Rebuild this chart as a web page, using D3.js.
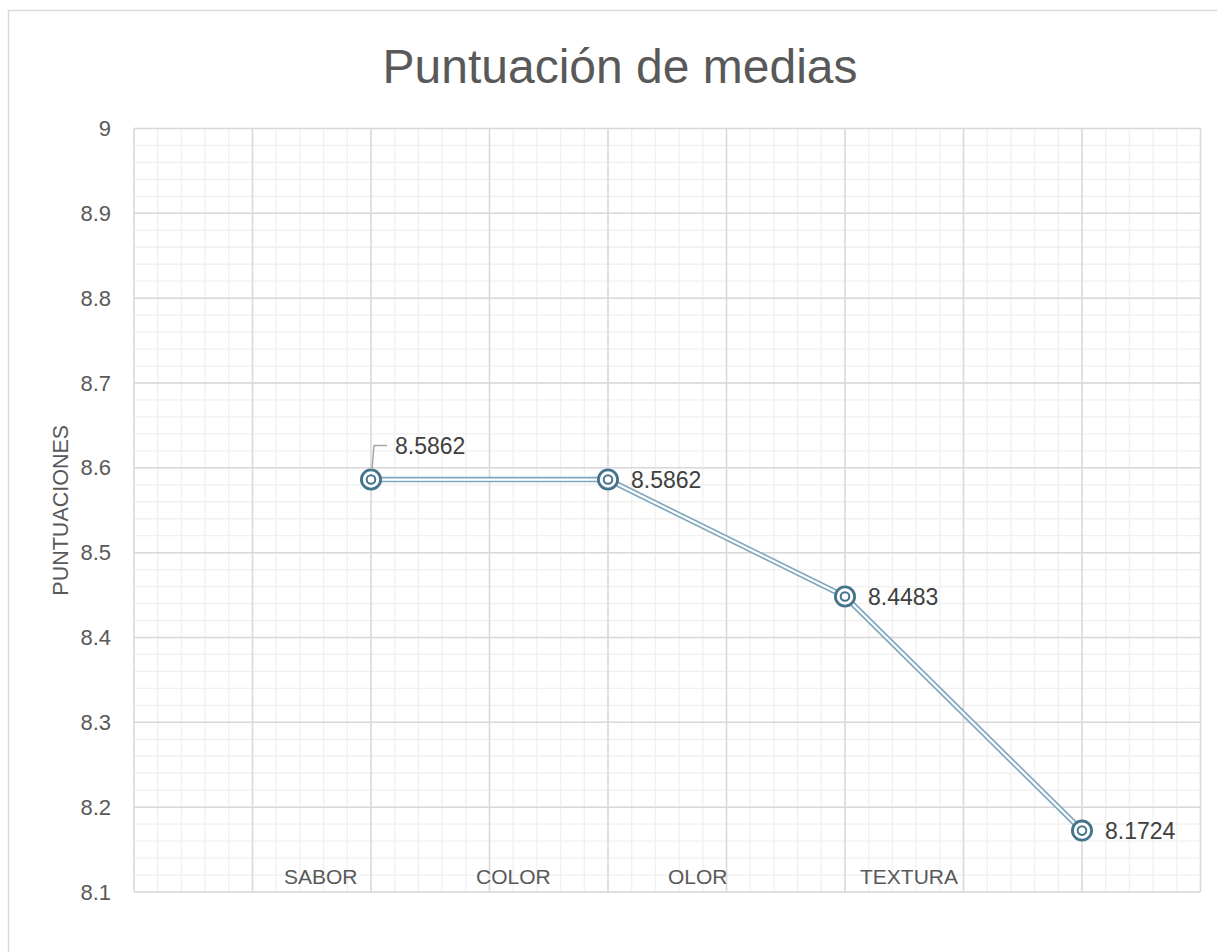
<!DOCTYPE html>
<html>
<head>
<meta charset="utf-8">
<script src="https://cdn.jsdelivr.net/npm/d3@7"></script>
<style>
  html, body { margin: 0; padding: 0; background: #fff; }
  svg { display: block; }
  text { font-family: "Liberation Sans", Arial, sans-serif; }
</style>
</head>
<body>
<svg id="chart" width="1217" height="952"></svg>
<script>
// ---- data ----
const title = "Puntuación de medias";
const yAxisTitle = "PUNTUACIONES";
const categories = ["SABOR", "COLOR", "OLOR", "TEXTURA"];
const xValues = [2, 4, 6, 8];
const values = [8.5862, 8.5862, 8.4483, 8.1724];
const yTicks = [8.1, 8.2, 8.3, 8.4, 8.5, 8.6, 8.7, 8.8, 8.9, 9];
const xDomain = [0, 9];
const yDomain = [8.1, 9];

// ---- layout ----
const W = 1217, H = 952;
const plot = { left: 134, right: 1200.5, top: 128.5, bottom: 892 };

const svg = d3.select("#chart");

// chart border (left + top visible)
svg.append("rect")
  .attr("x", 8.5).attr("y", 10.5)
  .attr("width", W + 20).attr("height", H + 20)
  .attr("fill", "#fff").attr("stroke", "#d9d9d9").attr("stroke-width", 1.5);

const x = d3.scaleLinear().domain(xDomain).range([plot.left, plot.right]);
const y = d3.scaleLinear().domain(yDomain).range([plot.bottom, plot.top]);

// minor gridlines
const xMinor = d3.range(xDomain[0], xDomain[1] + 1e-9, 0.2).map(v => +v.toFixed(2));
const yMinor = d3.range(yDomain[0], yDomain[1] + 1e-9, 0.02).map(v => +v.toFixed(2));
const g = svg.append("g");
g.selectAll(".xminor").data(xMinor).join("line")
  .attr("x1", d => x(d)).attr("x2", d => x(d))
  .attr("y1", plot.top).attr("y2", plot.bottom)
  .attr("stroke", "#f0f0f0").attr("stroke-width", 1.3);
g.selectAll(".yminor").data(yMinor).join("line")
  .attr("y1", d => y(d)).attr("y2", d => y(d))
  .attr("x1", plot.left).attr("x2", plot.right)
  .attr("stroke", "#f0f0f0").attr("stroke-width", 1.3);

// major gridlines
const xMajor = d3.range(xDomain[0], xDomain[1] + 1);
g.selectAll(".xmajor").data(xMajor).join("line")
  .attr("x1", d => x(d)).attr("x2", d => x(d))
  .attr("y1", plot.top).attr("y2", plot.bottom)
  .attr("stroke", "#d9d9d9").attr("stroke-width", 1.5);
g.selectAll(".ymajor").data(yTicks).join("line")
  .attr("y1", d => y(d)).attr("y2", d => y(d))
  .attr("x1", plot.left).attr("x2", plot.right)
  .attr("stroke", "#d9d9d9").attr("stroke-width", 1.5);

// y axis labels
const yAxis = d3.axisLeft(y).tickValues(yTicks).tickSize(0).tickPadding(0)
  .tickFormat(d => d3.format("~g")(d));
const ya = svg.append("g").attr("transform", `translate(${plot.left - 23},0)`).call(yAxis);
ya.select(".domain").remove();
ya.selectAll("text")
  .attr("fill", "#595959")
  .style("font-size", "22px")
  .style("font-family", "'Liberation Sans', Arial, sans-serif");

// category labels
const cat = d3.scalePoint().domain(categories).range([284, 860]);
svg.append("g").selectAll("text").data(categories).join("text")
  .attr("x", d => cat(d)).attr("y", 884)
  .attr("fill", "#595959")
  .style("font-size", "21px")
  .text(d => d);

// title
svg.append("text")
  .attr("x", 620).attr("y", 83)
  .attr("text-anchor", "middle")
  .attr("fill", "#595959")
  .style("font-size", "48px")
  .text(title);

// y axis title
svg.append("text")
  .attr("transform", `translate(68,${(plot.top + plot.bottom) / 2}) rotate(-90)`)
  .attr("text-anchor", "middle")
  .attr("fill", "#595959")
  .style("font-size", "21.5px")
  .text(yAxisTitle);

// series
const pts = values.map((v, i) => ({ x: xValues[i], y: v, c: categories[i] }));
const line = d3.line().x(d => x(d.x)).y(d => y(d.y));
svg.append("path").datum(pts).attr("d", line)
  .attr("fill", "none").attr("stroke", "#7ea7bf").attr("stroke-width", 5.5)
  .attr("stroke-linejoin", "round");
svg.append("path").datum(pts).attr("d", line)
  .attr("fill", "none").attr("stroke", "#ffffff").attr("stroke-width", 2.2)
  .attr("stroke-linejoin", "round");

// markers (double ring)
const mk = svg.append("g").selectAll("g").data(pts).join("g")
  .attr("transform", d => `translate(${x(d.x)},${y(d.y)})`);
mk.append("circle").attr("r", 9.6).attr("fill", "#fff")
  .attr("stroke", "#44738c").attr("stroke-width", 2.8);
mk.append("circle").attr("r", 4.3).attr("fill", "none")
  .attr("stroke", "#44738c").attr("stroke-width", 2);

// data labels
const fmt = d3.format(".4f");
// first label: above-right with leader line
const p0 = pts[0];
svg.append("path")
  .attr("d", `M${x(p0.x) + 1},${y(p0.y) - 10} L${x(p0.x) + 3},${y(p0.y) - 34} L${x(p0.x) + 16},${y(p0.y) - 34}`)
  .attr("fill", "none").attr("stroke", "#a6a6a6").attr("stroke-width", 1.5);
svg.append("text")
  .attr("x", x(p0.x) + 24).attr("y", y(p0.y) - 34)
  .attr("dy", "0.35em")
  .attr("fill", "#404040")
  .style("font-size", "23px")
  .text(fmt(p0.y));
svg.append("g").selectAll("text").data(pts.slice(1)).join("text")
  .attr("x", d => x(d.x) + 23).attr("y", d => y(d.y))
  .attr("dy", "0.35em")
  .attr("fill", "#404040")
  .style("font-size", "23px")
  .text(d => fmt(d.y));
</script>
</body>
</html>
